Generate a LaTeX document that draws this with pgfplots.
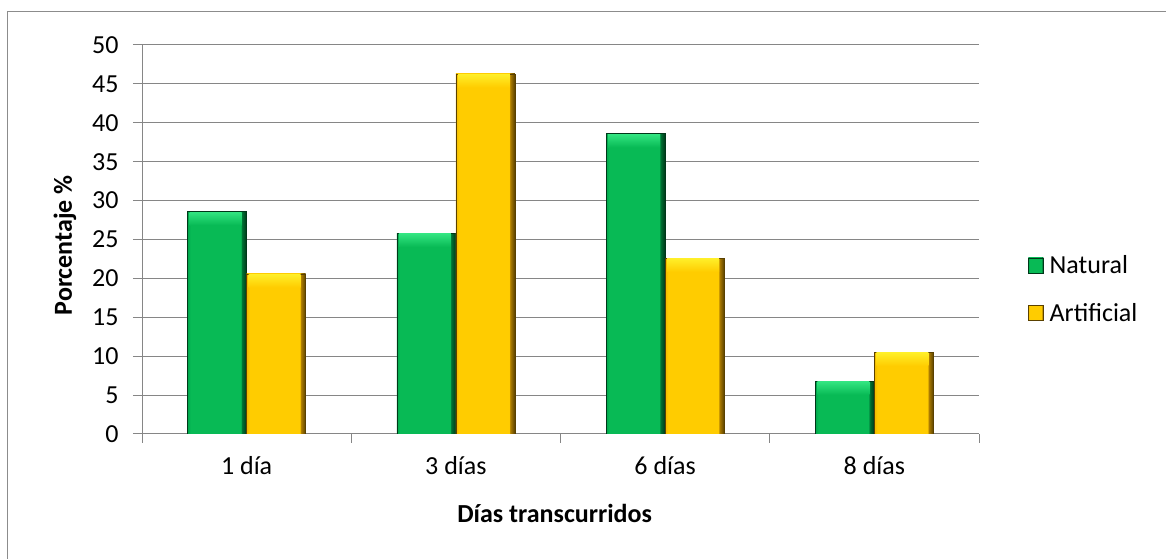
\documentclass[border=0pt]{standalone}
\usepackage{fontspec}
\setmainfont{Carlito}
\usepackage{pgfplots}
\pgfplotsset{compat=1.18}

\definecolor{gridgray}{RGB}{134,134,134}
\definecolor{framegray}{RGB}{140,140,140}
% green bars
\definecolor{gA}{RGB}{0,165,75}
\definecolor{gM}{RGB}{8,186,85}
\definecolor{gD}{RGB}{0,115,52}
\definecolor{gK}{RGB}{0,55,25}
\definecolor{gL}{RGB}{50,228,128}
% yellow bars
\definecolor{yA}{RGB}{240,185,0}
\definecolor{yM}{RGB}{255,204,0}
\definecolor{yD}{RGB}{175,125,0}
\definecolor{yK}{RGB}{90,65,0}
\definecolor{yL}{RGB}{255,238,40}

% side bevels: lighter left edge, dark right edge
\pgfdeclarehorizontalshading{natbar}{100bp}{color(0bp)=(gA); color(25bp)=(gA); color(27.5bp)=(gM); color(70bp)=(gM); color(71bp)=(gD); color(75bp)=(gK); color(100bp)=(gK)}
\pgfdeclarehorizontalshading{artbar}{100bp}{color(0bp)=(yA); color(25bp)=(yA); color(27.5bp)=(yM); color(70bp)=(yM); color(71bp)=(yD); color(75bp)=(yK); color(100bp)=(yK)}

% the bevel at the top of each bar is an empty node placed at the bar's value
% (bar width 0.282 axis units = 59bp; half of it is the bar's offset)
\pgfplotsset{
  barbase/.style={ybar, bar width=0.282, line width=0.4bp,
    nodes near coords={},
    every node near coord/.append style={anchor=north, inner sep=0pt, outer sep=0pt,
      minimum width=52bp, minimum height=13bp, yshift=-0.6bp}},
  natstyle/.style={barbase, bar shift=-0.141, shade, shading=natbar, draw=gK,
    every node near coord/.append style={top color=gL, bottom color=gM, xshift=-31bp}},
  artstyle/.style={barbase, bar shift=0.141, shade, shading=artbar, draw=yK,
    every node near coord/.append style={top color=yL, bottom color=yM, xshift=28bp}},
}

\newcommand{\lbl}{\fontsize{26bp}{30bp}\selectfont}

\begin{document}
\begin{tikzpicture}[x=1bp,y=1bp]
\useasboundingbox (0,0) rectangle (1166,559);
\draw[framegray, line width=1.3bp] (7.5,0) -- (7.5,547.5) -- (1166,547.5);
\begin{axis}[
  at={(142bp,125bp)}, anchor=south west,
  scale only axis, width=837bp, height=389bp,
  xmin=-0.5, xmax=3.5, ymin=0, ymax=50,
  ytick={0,5,...,50},
  xtick={-0.5,0.5,1.5,2.5,3.5}, xticklabels={},
  extra x ticks={0,1,2,3},
  extra x tick labels={1 día,3 días,6 días,8 días},
  extra x tick style={major tick length=0pt},
  axis x line*=bottom, axis y line*=left,
  axis line style={gridgray, line width=1bp, -},
  ymajorgrids, grid style={gridgray, line width=1bp},
  tick style={gridgray, line width=1bp},
  tick align=outside, major tick length=9bp,
  /pgf/number format/assume math mode=true,
  yticklabel style={anchor=east, xshift=-11bp, font=\lbl},
  xticklabel style={yshift=-19bp, font=\lbl},
  ylabel={\bfseries Porcentaje \%},
  ylabel style={at={(rel axis cs:-0.092,0.485)}, anchor=center, font=\lbl},
  xlabel={\bfseries Días transcurridos},
  xlabel style={at={(rel axis cs:0.493,-0.2055)}, anchor=center, font=\lbl},
  legend style={at={(rel axis cs:1.0586,0.3728)}, anchor=west, draw=none, fill=none,
    inner sep=0pt, row sep=24bp, font=\lbl},
  legend cell align=left,
  legend image code/.code={\draw[#1] (0bp,-7.5bp) rectangle (15bp,7.5bp); \path (19bp,0bp);},
]
% one plot per bar, so that each bar gets its own shading
\addplot[natstyle] coordinates {(0,28.6)};
\addplot[artstyle] coordinates {(0,20.6)};
\addplot[natstyle, forget plot] coordinates {(1,25.8)};
\addplot[natstyle, forget plot] coordinates {(2,38.6)};
\addplot[natstyle, forget plot] coordinates {(3,6.8)};
\addplot[artstyle, forget plot] coordinates {(1,46.3)};
\addplot[artstyle, forget plot] coordinates {(2,22.6)};
\addplot[artstyle, forget plot] coordinates {(3,10.5)};
\legend{Natural, Artificial}
\end{axis}
\end{tikzpicture}
\end{document}
